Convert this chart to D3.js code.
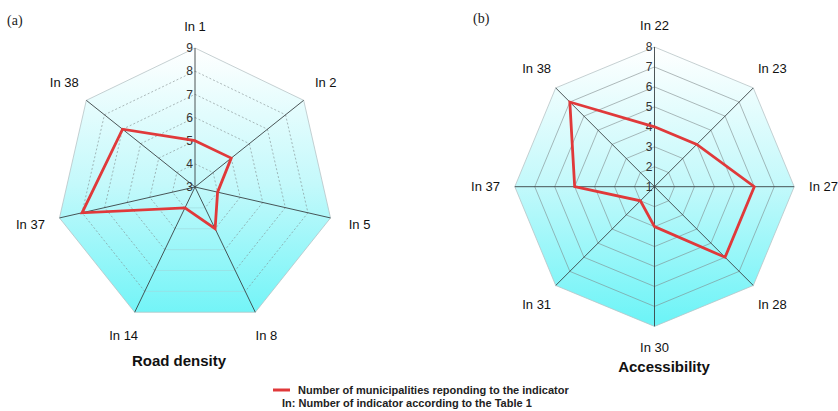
<!DOCTYPE html>
<html>
<head>
<meta charset="utf-8">
<script src="https://cdn.jsdelivr.net/npm/d3@7"></script>
<style>
  body { margin: 0; background: #fff; }
  svg { display: block; font-family: Arial, "Liberation Sans", sans-serif; }
</style>
</head>
<body>
<svg id="chart" width="838" height="411"></svg>
<script>
// road density panel
const roadAxes = ['In 1', 'In 2', 'In 5', 'In 8', 'In 14', 'In 37', 'In 38'];
const roadValues = [5, 5, 4, 5, 4, 8, 7];
const roadTicks = [3, 4, 5, 6, 7, 8, 9];

// accessibility panel
const accessAxes = ['In 22', 'In 23', 'In 27', 'In 28', 'In 30', 'In 31', 'In 37', 'In 38'];
const accessValues = [4, 4, 6, 6, 3, 2, 5, 7];
const accessTicks = [1, 2, 3, 4, 5, 6, 7, 8];

const legendLabels = [
    'Number of municipalities reponding to the indicator',
    'In: Number of indicator according to the Table 1'
];

const svg = d3.select('#chart');

const defs = svg.append('defs');

const drawRadar = (opts) => {
    const { id, cx, cy, radius, axes, values, ticks, dashed, title, titleX, titleY, tag, tagX, tagY } = opts;
    const n = axes.length;

    const r = d3.scaleLinear()
        .domain([ticks[0], ticks[ticks.length - 1]])
        .range([0, radius]);

    const angle = d3.scaleLinear().domain([0, n]).range([0, 2 * Math.PI]);
    const pt = (i, v) => [cx + r(v) * Math.sin(angle(i)), cy - r(v) * Math.cos(angle(i))];

    const grad = defs.append('linearGradient')
        .attr('id', 'grad-' + id)
        .attr('gradientUnits', 'userSpaceOnUse')
        .attr('x1', 0).attr('x2', 0)
        .attr('y1', cy - radius).attr('y2', cy + radius * 0.95);
    grad.append('stop').attr('offset', 0).attr('stop-color', '#ffffff');
    grad.append('stop').attr('offset', 0.5).attr('stop-color', '#c4f9fb');
    grad.append('stop').attr('offset', 1).attr('stop-color', '#6ff4f7');

    const g = svg.append('g');
    const maxV = ticks[ticks.length - 1];

    // background polygon
    g.append('polygon')
        .attr('points', d3.range(n).map(i => pt(i, maxV).join(',')).join(' '))
        .attr('fill', `url(#grad-${id})`)
        .attr('stroke', '#b8c4c6')
        .attr('stroke-width', 0.8);

    // grid rings, one segment per side
    const gridLevels = ticks.slice(1, -1);
    gridLevels.forEach(v => {
        d3.range(n).forEach(i => {
            const a = pt(i, v);
            const b = pt((i + 1) % n, v);
            const bottomSide = dashed && n === 7 && i === 3;
            g.append('line')
                .attr('x1', a[0]).attr('y1', a[1])
                .attr('x2', b[0]).attr('y2', b[1])
                .attr('stroke', bottomSide ? '#9fd9dc' : '#7f8a8c')
                .attr('stroke-width', 0.6)
                .attr('stroke-dasharray', dashed && !bottomSide ? '2,2' : null);
        });
    });

    // spokes
    g.selectAll('.spoke')
        .data(axes)
        .enter()
        .append('line')
        .attr('x1', cx).attr('y1', cy)
        .attr('x2', (d, i) => pt(i, maxV)[0])
        .attr('y2', (d, i) => pt(i, maxV)[1])
        .attr('stroke', '#3a4244')
        .attr('stroke-width', 0.9);

    // tick labels on first spoke
    g.selectAll('.tick')
        .data(ticks)
        .enter()
        .append('text')
        .attr('x', cx - 2)
        .attr('y', d => cy - r(d))
        .attr('dy', '0.35em')
        .attr('text-anchor', 'end')
        .attr('font-size', 12)
        .attr('fill', '#333')
        .text(d => d);

    // data line
    const line = d3.line()
        .x((d, i) => pt(i, d)[0])
        .y((d, i) => pt(i, d)[1])
        .curve(d3.curveLinearClosed);

    g.append('path')
        .datum(values)
        .attr('d', line)
        .attr('fill', 'none')
        .attr('stroke', '#e0393a')
        .attr('stroke-width', 2.8)
        .attr('stroke-linejoin', 'miter');

    // axis labels
    g.selectAll('.label')
        .data(axes)
        .enter()
        .append('text')
        .attr('x', (d, i) => cx + (161 + 8 * Math.abs(Math.sin(angle(i)))) * Math.sin(angle(i)))
        .attr('y', (d, i) => cy - (161 + 8 * Math.abs(Math.sin(angle(i)))) * Math.cos(angle(i)))
        .attr('dy', '0.35em')
        .attr('text-anchor', 'middle')
        .attr('font-size', 13)
        .attr('fill', '#111')
        .text(d => d);

    g.append('text')
        .attr('x', titleX)
        .attr('y', titleY)
        .attr('dy', '0.35em')
        .attr('text-anchor', 'middle')
        .attr('font-size', 15)
        .attr('font-weight', 'bold')
        .attr('fill', '#111')
        .text(title);

    g.append('text')
        .attr('x', tagX)
        .attr('y', tagY)
        .attr('dy', '0.35em')
        .attr('font-family', '"Liberation Serif", "DejaVu Serif", serif')
        .attr('font-size', 14)
        .attr('fill', '#222')
        .text(tag);
};

drawRadar({
    id: 'a', cx: 195, cy: 187, radius: 139,
    axes: roadAxes, values: roadValues, ticks: roadTicks, dashed: true,
    title: 'Road density', titleX: 179, titleY: 361,
    tag: '(a)', tagX: 7, tagY: 20
});

drawRadar({
    id: 'b', cx: 654.5, cy: 186.7, radius: 139.7,
    axes: accessAxes, values: accessValues, ticks: accessTicks, dashed: false,
    title: 'Accessibility', titleX: 664, titleY: 367,
    tag: '(b)', tagX: 473, tagY: 18
});

// legend
svg.append('line')
    .attr('x1', 273).attr('x2', 290)
    .attr('y1', 390).attr('y2', 390)
    .attr('stroke', '#e0393a')
    .attr('stroke-width', 3);

svg.selectAll('.legend')
    .data(legendLabels)
    .enter()
    .append('text')
    .attr('x', (d, i) => i === 0 ? 298 : 282)
    .attr('y', (d, i) => 390 + i * 13)
    .attr('dy', '0.35em')
    .attr('font-size', 11)
    .attr('font-weight', 'bold')
    .attr('fill', '#222')
    .text(d => d);
</script>
</body>
</html>
